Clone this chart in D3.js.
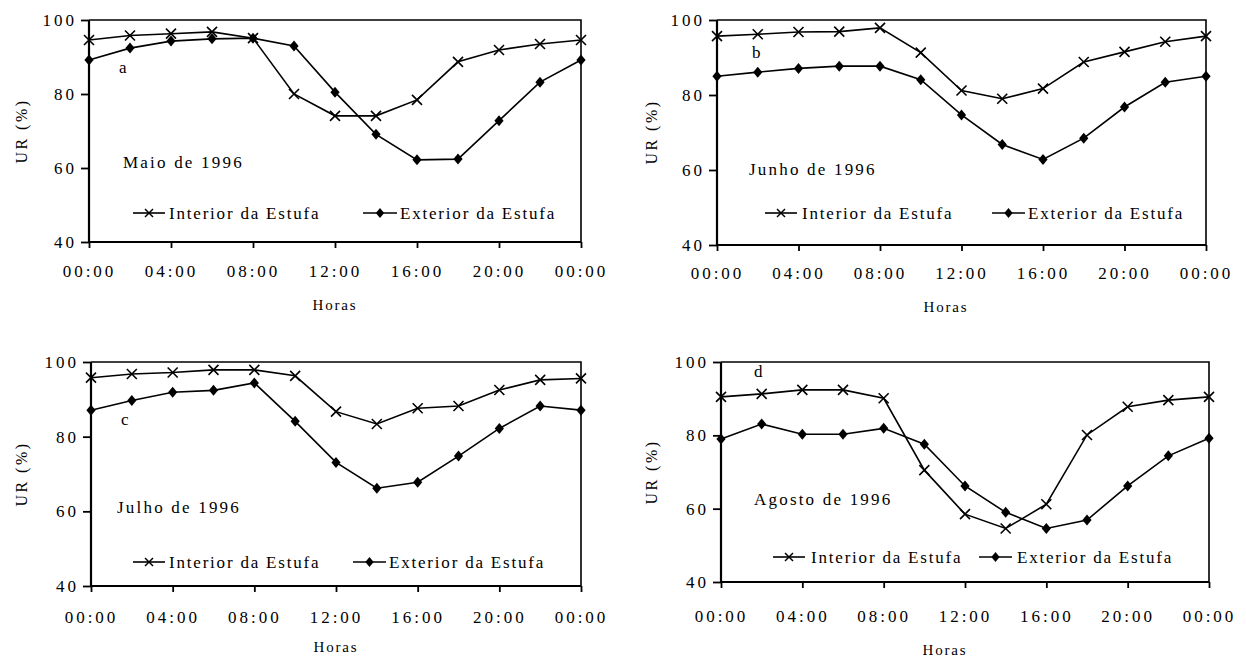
<!DOCTYPE html>
<html>
<head>
<meta charset="utf-8">
<script src="https://cdn.jsdelivr.net/npm/d3@7"></script>
<style>
  body { margin: 0; background: #fff; }
  svg text { font-family: "Times New Roman", "Liberation Serif", serif; fill: #000; }
  .tick-label { font-size: 17px; letter-spacing: 3px; }
  .legend-label { font-size: 17px; letter-spacing: 1.8px; }
  .note { font-size: 17px; letter-spacing: 2.2px; }
  .axis-title { font-size: 15px; letter-spacing: 1.8px; }
  .ur-title { font-size: 16px; letter-spacing: 2.5px; }
</style>
</head>
<body>
<svg id="chart" width="1246" height="662"></svg>
<script>
var hours = [0, 2, 4, 6, 8, 10, 12, 14, 16, 18, 20, 22, 24];
var xTickValues = [0, 4, 8, 12, 16, 20, 24];
var xTickLabels = ["00:00", "04:00", "08:00", "12:00", "16:00", "20:00", "00:00"];
var yTickValues = [40, 60, 80, 100];
var seriesNames = ["Interior da Estufa", "Exterior da Estufa"];

var interiorMaio   = [94.6, 95.8, 96.3, 96.8, 95.1, 80.0, 74.1, 74.1, 78.4, 88.7, 91.9, 93.5, 94.6];
var exteriorMaio   = [89.2, 92.4, 94.3, 94.9, 95.1, 93.0, 80.5, 69.1, 62.2, 62.4, 72.8, 83.2, 89.2];
var interiorJunho  = [95.7, 96.2, 96.8, 96.9, 97.9, 91.3, 81.2, 79.0, 81.7, 88.8, 91.5, 94.2, 95.7];
var exteriorJunho  = [85.0, 86.1, 87.1, 87.7, 87.7, 84.1, 74.7, 66.8, 62.8, 68.5, 76.8, 83.4, 85.0];
var interiorJulho  = [95.8, 96.8, 97.2, 97.9, 97.9, 96.3, 86.7, 83.4, 87.6, 88.2, 92.5, 95.2, 95.6];
var exteriorJulho  = [87.1, 89.7, 91.9, 92.4, 94.4, 84.1, 73.1, 66.2, 67.8, 74.8, 82.2, 88.2, 87.1];
var interiorAgosto = [90.5, 91.3, 92.4, 92.4, 90.1, 70.5, 58.5, 54.6, 61.2, 80.1, 87.8, 89.6, 90.5];
var exteriorAgosto = [79.0, 83.1, 80.3, 80.3, 81.9, 77.6, 66.2, 59.0, 54.6, 56.9, 66.2, 74.4, 79.2];

var monthLabels = ["Maio de 1996", "Junho de 1996", "Julho de 1996", "Agosto de 1996"];
var panelLetters = ["a", "b", "c", "d"];

// layout of each panel (plot box in page pixels + text offsets)
var panels = [
    {interior: interiorMaio, exterior: exteriorMaio,
     box: [89, 581, 20, 242], letter: [30, 53], month: [34, 148],
     legY: 193, leg1: [44, 76, 80], leg2: [274, 308, 311],
     tickY: 277, horas: [335, 310], ur: [21, 131]},
    {interior: interiorJunho, exterior: exteriorJunho,
     box: [717, 1206, 20, 245], letter: [35, 38], month: [32, 155],
     legY: 193, leg1: [48, 80, 85], leg2: [275, 308, 311],
     tickY: 279, horas: [946, 312], ur: [651, 132]},
    {interior: interiorJulho, exterior: exteriorJulho,
     box: [91, 581, 362, 586], letter: [30, 63], month: [26, 151],
     legY: 200, leg1: [42, 74, 78], leg2: [262, 295, 298],
     tickY: 623, horas: [336, 652], ur: [21, 474]},
    {interior: interiorAgosto, exterior: exteriorAgosto,
     box: [721, 1209, 362, 582], letter: [33, 15], month: [33, 143],
     legY: 195, leg1: [52, 84, 90], leg2: [258, 291, 296],
     tickY: 622, horas: [945, 655], ur: [651, 472]}
];

var svg = d3.select("#chart");

var crossPath = "M-5,-5L5,5M-5,5L5,-5";
var diamondPath = "M0,-5.5L4.6,0L0,5.5L-4.6,0Z";

function drawPanel(p, i) {
    var left = p.box[0], right = p.box[1], top = p.box[2], bottom = p.box[3]
        , w = right - left
        , h = bottom - top
        , g = svg.append("g").attr("transform", "translate(" + left + "," + top + ")")
        ;

    var x = d3.scaleLinear().domain([0, 24]).range([0, w]);
    var y = d3.scaleLinear().domain([40, 100]).range([h, 0]);

    // frame (top + right)
    g.append("path")
        .attr("d", "M0,0H" + w + "V" + h)
        .attr("fill", "none")
        .attr("stroke", "#000")
        .attr("stroke-width", 1.6);

    var xAxis = d3.axisBottom(x)
        .tickValues(xTickValues)
        .tickSize(6)
        .tickFormat(function(d, k) { return xTickLabels[k]; });

    var gx = g.append("g")
        .attr("transform", "translate(0," + h + ")")
        .call(xAxis)
        .attr("font-size", null)
        .attr("font-family", null);
    gx.select(".domain").attr("stroke-width", 2.2).attr("d", "M0,0H" + w);
    gx.selectAll(".tick line").attr("stroke-width", 1.8);
    gx.selectAll(".tick text")
        .attr("class", "tick-label")
        .attr("y", p.tickY - bottom)
        .attr("dy", 0);

    var yAxis = d3.axisLeft(y)
        .tickValues(yTickValues)
        .tickSize(8)
        .tickFormat(d3.format("d"));

    var gy = g.append("g")
        .call(yAxis)
        .attr("font-size", null)
        .attr("font-family", null);
    gy.select(".domain").attr("stroke-width", 2.2).attr("d", "M0," + h + "V0");
    gy.selectAll(".tick line").attr("stroke-width", 1.8);
    gy.selectAll(".tick text")
        .attr("class", "tick-label")
        .attr("x", -12)
        .attr("dy", "0.33em");

    var line = d3.line()
        .x(function(d) { return x(d[0]); })
        .y(function(d) { return y(d[1]); });

    var inter = hours.map(function(hh, k) { return [hh, p.interior[k]]; });
    var exter = hours.map(function(hh, k) { return [hh, p.exterior[k]]; });

    g.append("path")
        .attr("d", line(exter))
        .attr("fill", "none")
        .attr("stroke", "#000")
        .attr("stroke-width", 1.6);

    g.append("path")
        .attr("d", line(inter))
        .attr("fill", "none")
        .attr("stroke", "#000")
        .attr("stroke-width", 1.6);

    g.selectAll("path.dia")
        .data(exter)
        .enter().append("path")
        .attr("class", "dia")
        .attr("d", diamondPath)
        .attr("fill", "#000")
        .attr("transform", function(d) { return "translate(" + x(d[0]) + "," + y(d[1]) + ")"; });

    g.selectAll("path.cross")
        .data(inter)
        .enter().append("path")
        .attr("class", "cross")
        .attr("d", crossPath)
        .attr("fill", "none")
        .attr("stroke", "#000")
        .attr("stroke-width", 1.6)
        .attr("transform", function(d) { return "translate(" + x(d[0]) + "," + y(d[1]) + ")"; });

    // panel letter + month
    g.append("text")
        .attr("class", "note")
        .attr("x", p.letter[0])
        .attr("y", p.letter[1])
        .text(panelLetters[i]);

    g.append("text")
        .attr("class", "note")
        .attr("x", p.month[0])
        .attr("y", p.month[1])
        .text(monthLabels[i]);

    // legend
    var lg = g.append("g").attr("transform", "translate(0," + p.legY + ")");
    lg.append("line")
        .attr("x1", p.leg1[0]).attr("x2", p.leg1[1])
        .attr("stroke", "#000").attr("stroke-width", 1.6);
    lg.append("path")
        .attr("d", crossPath)
        .attr("transform", "translate(" + (p.leg1[0] + p.leg1[1]) / 2 + ",0) scale(0.8)")
        .attr("fill", "none").attr("stroke", "#000").attr("stroke-width", 1.8);
    lg.append("text")
        .attr("class", "legend-label")
        .attr("x", p.leg1[2])
        .attr("dy", "0.33em")
        .text(seriesNames[0]);

    lg.append("line")
        .attr("x1", p.leg2[0]).attr("x2", p.leg2[1])
        .attr("stroke", "#000").attr("stroke-width", 1.6);
    lg.append("path")
        .attr("d", diamondPath)
        .attr("transform", "translate(" + (p.leg2[0] + p.leg2[1]) / 2 + ",0) scale(0.9)")
        .attr("fill", "#000");
    lg.append("text")
        .attr("class", "legend-label")
        .attr("x", p.leg2[2])
        .attr("dy", "0.33em")
        .text(seriesNames[1]);

    // axis titles
    svg.append("text")
        .attr("class", "axis-title")
        .attr("text-anchor", "middle")
        .attr("x", p.horas[0])
        .attr("y", p.horas[1])
        .text("Horas");

    svg.append("text")
        .attr("class", "ur-title")
        .attr("text-anchor", "middle")
        .attr("transform", "translate(" + p.ur[0] + "," + p.ur[1] + ") rotate(-90)")
        .attr("dy", "0.35em")
        .text("UR (%)");
}

panels.forEach(drawPanel);
</script>
</body>
</html>
